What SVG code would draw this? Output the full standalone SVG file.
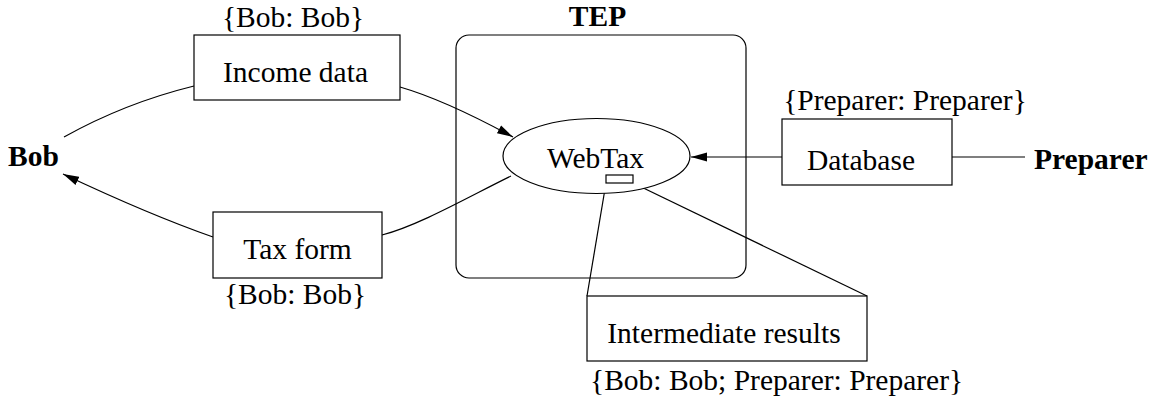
<svg xmlns="http://www.w3.org/2000/svg" width="1159" height="400" viewBox="0 0 1159 400">
<defs>
<marker id="arr" viewBox="0 0 16 10" refX="16" refY="5" markerWidth="16" markerHeight="10" markerUnits="userSpaceOnUse" orient="auto">
<path d="M0,0.5 L16,5 L0,9.5 Z" fill="#000"/>
</marker>
<style>
text{font-family:"Liberation Serif","Times New Roman",serif;font-size:29.5px;fill:#000}
.b{font-weight:bold}
.m{text-anchor:middle}
.box{fill:#fff;stroke:#000;stroke-width:1.2}
.ln{fill:none;stroke:#000;stroke-width:1.2}
</style>
</defs>
<rect width="1159" height="400" fill="#fff"/>
<g id="tep">
<rect x="456" y="35" width="290" height="243" rx="13" ry="13" class="box"/>
<text x="597.5" y="26" class="b m">TEP</text>
</g>
<g id="connectors">
<path class="ln" d="M64,137 Q125,103 194,86"/>
<path class="ln" d="M400,87 Q445,100 513,137" marker-end="url(#arr)"/>
<path class="ln" d="M511,176 C470,196 420,225 382,235"/>
<path class="ln" d="M213,237 Q150,215 63,174" marker-end="url(#arr)"/>
<path class="ln" d="M782,157 L691,157" marker-end="url(#arr)"/>
<path class="ln" d="M952,157 L1025,157"/>
<path class="ln" d="M606,183 L587,296"/>
<path class="ln" d="M633,183 L867,296"/>
</g>
<g id="bob">
<text x="8" y="166" class="b">Bob</text>
</g>
<g id="income">
<rect x="194" y="35" width="206" height="65" class="box"/>
<text x="295.5" y="82" class="m">Income data</text>
<text x="293" y="27" class="m">{Bob: Bob}</text>
</g>
<g id="taxform">
<rect x="213" y="212" width="169" height="66" class="box"/>
<text x="297.5" y="259" class="m">Tax form</text>
<text x="295" y="304" class="m">{Bob: Bob}</text>
</g>
<g id="webtax">
<ellipse cx="596.5" cy="156" rx="93.5" ry="37.5" class="box"/>
<text x="595.5" y="168" class="m">WebTax</text>
<rect x="606" y="175" width="27" height="8" class="box"/>
</g>
<g id="database">
<rect x="782" y="119" width="170" height="66" class="box"/>
<text x="861" y="170" class="m">Database</text>
<text x="905" y="110" class="m">{Preparer: Preparer}</text>
</g>
<g id="preparer">
<text x="1034" y="169" class="b">Preparer</text>
</g>
<g id="intermediate">
<rect x="587" y="296" width="280" height="65" class="box"/>
<text x="724" y="343" class="m">Intermediate results</text>
<text x="590" y="390">{Bob: Bob; Preparer: Preparer}</text>
</g>
</svg>
